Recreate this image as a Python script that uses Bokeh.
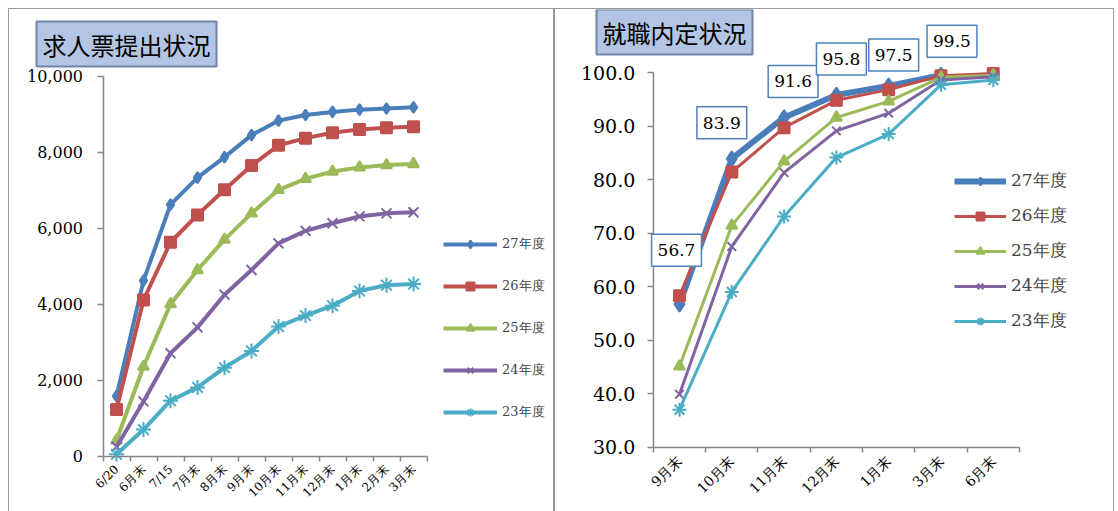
import numpy as np
from bokeh.plotting import figure
from bokeh.models import FixedTicker, Legend, LegendItem, Label, NumeralTickFormatter, Range1d
from bokeh.layouts import row
from bokeh.embed import file_html
from bokeh.resources import INLINE

# ---------------- data ----------------
series_names = ["27年度", "26年度", "25年度", "24年度", "23年度"]

left_title = "求人票提出状況"
left_categories = ["6/20", "6月末", "7/15", "7月末", "8月末", "9月末", "10月末",
                   "11月末", "12月末", "1月末", "2月末", "3月末"]
left_y27 = [1580, 4620, 6620, 7330, 7870, 8450, 8830, 8980, 9060, 9120, 9150, 9180]
left_y26 = [1230, 4110, 5630, 6350, 7010, 7650, 8180, 8370, 8510, 8600, 8640, 8670]
left_y25 = [420, 2360, 4000, 4900, 5700, 6390, 7010, 7300, 7490, 7600, 7660, 7690]
left_y24 = [250, 1440, 2710, 3390, 4250, 4900, 5600, 5930, 6130, 6310, 6390, 6420]
left_y23 = [50, 700, 1460, 1810, 2330, 2770, 3410, 3700, 3960, 4350, 4500, 4530]
left_yticks = [0, 2000, 4000, 6000, 8000, 10000]

right_title = "就職内定状況"
right_categories = ["9月末", "10月末", "11月末", "12月末", "1月末", "3月末", "6月末"]
right_y27 = [56.7, 83.9, 91.6, 95.8, 97.5, 99.5, None]
right_y26 = [58.3, 81.4, 89.7, 94.8, 96.8, 99.4, 99.8]
right_y25 = [45.1, 71.4, 83.4, 91.6, 94.6, 99.1, 99.5]
right_y24 = [39.9, 67.5, 81.3, 89.1, 92.4, 98.6, 99.2]
right_y23 = [37.0, 59.0, 73.1, 84.1, 88.5, 97.7, 98.6]
right_yticks = [30, 40, 50, 60, 70, 80, 90, 100]

# ---------------- styles ----------------
colors = ["#4a7ebb", "#c0504d", "#9bbb59", "#8064a2", "#4bacc6"]
markers = ["diamond", "square", "triangle", "x", "asterisk"]
SERIF = "DejaVu Serif"
AXIS_GREY = "#868686"
PANEL_STYLE = {"border": "1px solid #9a9a9a", "border-bottom": "none",
               "box-sizing": "border-box"}
# label offsets (screen px) for the boxed data labels of 27年度
label_dx = [-3, -10, 9, 5, 5, 11]
label_dy = [54, 36, 36, 36, 31, 34]


def style_axes(p, n, cats, yticks, ybounds, yfmt, tick_font, x_font, standoff):
    p.xgrid.visible = False
    p.ygrid.visible = False
    p.outline_line_color = None
    p.background_fill_color = "white"
    p.border_fill_color = "white"
    xa = p.xaxis[0]
    xa.fixed_location = ybounds[0]
    xa.ticker = FixedTicker(ticks=list(range(n)),
                            minor_ticks=[i - 0.5 for i in range(n + 1)])
    xa.bounds = (-0.5, n - 0.5)
    xa.major_label_overrides = {i: c for i, c in enumerate(cats)}
    xa.major_tick_out = 0
    xa.major_tick_in = 0
    xa.minor_tick_out = 5
    xa.minor_tick_in = 0
    xa.minor_tick_line_color = AXIS_GREY
    xa.minor_tick_line_width = 1.5
    xa.axis_line_color = AXIS_GREY
    xa.axis_line_width = 1.5
    xa.major_label_orientation = np.pi / 4
    xa.major_label_text_font = SERIF
    xa.major_label_text_font_size = x_font
    xa.major_label_text_color = "black"
    xa.major_label_standoff = 6
    ya = p.yaxis[0]
    ya.fixed_location = -0.5
    ya.bounds = ybounds
    ya.ticker = FixedTicker(ticks=yticks, minor_ticks=[])
    ya.formatter = NumeralTickFormatter(format=yfmt)
    ya.major_tick_out = 6
    ya.major_tick_in = 0
    ya.major_tick_line_color = AXIS_GREY
    ya.major_tick_line_width = 1.5
    ya.axis_line_color = AXIS_GREY
    ya.axis_line_width = 1.5
    ya.major_label_text_font = SERIF
    ya.major_label_text_font_size = tick_font
    ya.major_label_text_color = "black"
    ya.major_label_standoff = standoff


def title_label(p, text, x, y):
    lab = Label(x=x, y=y, x_units="screen", y_units="screen", text=text,
                text_font="Noto Sans CJK JP", text_font_size="24px",
                text_color="black", text_align="left", text_baseline="bottom",
                background_fill_color="#b3c5e4", border_line_color="#6f84a8",
                border_line_width=2,
                padding=dict(left=6, right=6, top=5, bottom=5))
    p.add_layout(lab)


# ---------------- left chart ----------------
pl = figure(width=546, height=503, output_backend="svg", toolbar_location=None,
            x_range=Range1d(-3.963, 16.259),
            y_range=Range1d(-1482, 11755),
            min_border_left=0, min_border_right=0, min_border_top=0,
            min_border_bottom=0)
pl.styles = PANEL_STYLE
style_axes(pl, len(left_categories), left_categories, left_yticks, (0, 10000),
           "0,0", "16px", "12px", 14)

left_data = [left_y27, left_y26, left_y25, left_y24, left_y23]
left_msizes = [11, 11, 11, 14, 15]
xs_l = list(range(len(left_categories)))
items_l = []
for name, ys, c, m, ms in zip(series_names, left_data, colors, markers, left_msizes):
    yv = np.array(ys, dtype=float)
    lr = pl.line(xs_l, yv, line_color=c, line_width=4)
    sr = pl.scatter(xs_l, yv, marker=m, size=ms, fill_color=c, line_color=c,
                    line_width=2)
    items_l.append(LegendItem(label=name, renderers=[lr, sr]))

leg_l = Legend(items=items_l, location=(434, 90), glyph_width=54, glyph_height=20,
               spacing=22, padding=0, margin=0, label_standoff=5,
               label_text_font=SERIF, label_text_font_size="13px",
               border_line_color=None, background_fill_alpha=0)
pl.add_layout(leg_l, "center")
title_label(pl, left_title, 27, 446)

# ---------------- right chart ----------------
pr = figure(width=560, height=503, output_backend="svg", toolbar_location=None,
            x_range=Range1d(-2.371, 8.337),
            y_range=Range1d(17.8, 111.77),
            min_border_left=0, min_border_right=0, min_border_top=0,
            min_border_bottom=0)
pr.styles = PANEL_STYLE
style_axes(pr, len(right_categories), right_categories, right_yticks, (30, 100),
           "0.0", "19px", "14px", 12)

right_data = [right_y27, right_y26, right_y25, right_y24, right_y23]
right_lw = [6, 3, 3, 3, 3]
right_msizes = [15, 11, 11, 12, 14]
xs_r = list(range(len(right_categories)))
items_r = []
for name, ys, c, m, ms, lw in zip(series_names, right_data, colors, markers,
                                  right_msizes, right_lw):
    yv = np.array([np.nan if v is None else v for v in ys], dtype=float)
    lr = pr.line(xs_r, yv, line_color=c, line_width=lw)
    sr = pr.scatter(xs_r, yv, marker=m, size=ms, fill_color=c, line_color=c,
                    line_width=2)
    items_r.append(LegendItem(label=name, renderers=[lr, sr]))

for i, v in enumerate(right_y27):
    if v is None:
        continue
    pr.add_layout(Label(x=i, y=v, text=f"{v:.1f}", x_offset=label_dx[i],
                        y_offset=label_dy[i], text_align="center",
                        text_baseline="middle", text_font=SERIF,
                        text_font_size="17px", text_color="black",
                        background_fill_color="white",
                        border_line_color="#4f81bd", border_line_width=1.5,
                        padding=dict(left=6, right=6, top=10, bottom=10)))

leg_r = Legend(items=items_r, location=(399, 180), glyph_width=52, glyph_height=20,
               spacing=12, padding=0, margin=0, label_standoff=5,
               label_text_font=SERIF, label_text_font_size="17px",
               border_line_color=None, background_fill_alpha=0)
pr.add_layout(leg_r, "center")
title_label(pr, right_title, 41, 458)

layout = row(pl, pr, spacing=0, margin=(8, 0, 0, 8))
open("out.html", "w").write(file_html(layout, INLINE))
